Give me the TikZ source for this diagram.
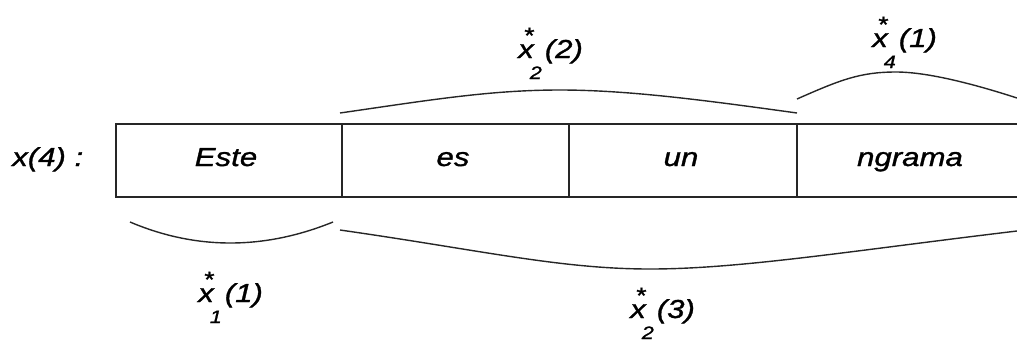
\documentclass[tikz,border=0pt]{standalone}
\usepackage{fontspec}
\setmainfont{Liberation Sans}[FakeStretch=1.2,FakeBold=1.2]
\newcommand\xstarlab[2]{\makebox[0pt][l]{\hspace*{5pt}\raisebox{15pt}{\fontsize{22}{22}\selectfont *}}x\hspace{-4pt}\raisebox{-21pt}{\fontsize{18}{18}\selectfont #1}\hspace{3pt}#2}
\begin{document}
\begin{tikzpicture}[x=1pt,y=-1pt,
  ln/.style={line width=1.4pt, black!85},
  txt/.style={font=\fontsize{26}{28}\selectfont\itshape, inner sep=0pt},
  lbl/.style={txt, anchor=base west},
  celltext/.style={txt, anchor=base}]
\useasboundingbox (0,0) rectangle (1017,341);
% cell grid
\coordinate (tl) at (116,124);
\coordinate (bl) at (116,197);
\coordinate (tr) at (1017,124);
\coordinate (br) at (1017,197);
\coordinate (d1t) at (342,124); \coordinate (d1b) at (342,197);
\coordinate (d2t) at (569,124); \coordinate (d2b) at (569,197);
\coordinate (d3t) at (797,124); \coordinate (d3b) at (797,197);
\draw[ln] (tr) -- (tl) -- (bl) -- (br);
\draw[ln] (d1t) -- (d1b);
\draw[ln] (d2t) -- (d2b);
\draw[ln] (d3t) -- (d3b);
% texts
\node[lbl] (x4) at (12,166) {x(4) :};
\node[celltext] (c1) at (226,166) {Este};
\node[celltext] (c2) at (453,166) {es};
\node[celltext] (c3) at (681,166) {un};
\node[celltext] (c4) at (910,166) {ngrama};
% braces
\coordinate (t1a) at (340,113); \coordinate (t1m) at (560,90); \coordinate (t1b) at (797,113);
\draw[ln] (t1a) .. controls (430,100) and (490,90) .. (t1m) .. controls (630,90) and (710,101) .. (t1b);
\coordinate (t2a) at (797,99); \coordinate (t2m) at (896,72); \coordinate (t2b) at (1017,98);
\draw[ln] (t2a) .. controls (840,80) and (860,72) .. (t2m) .. controls (930,72) and (980,86) .. (t2b);
\coordinate (b1a) at (130,222); \coordinate (b1b) at (333,222);
\draw[ln] (b1a) .. controls (196,250) and (264,250) .. (b1b);
\coordinate (b2a) at (340,230); \coordinate (b2m) at (650,269); \coordinate (b2b) at (1017,231);
\draw[ln] (b2a) .. controls (480,250) and (560,269) .. (b2m) .. controls (740,269) and (850,251) .. (b2b);
% brace labels
\node[lbl] (l22) at (518,58) {\xstarlab{2}{(2)}};
\node[lbl] (l41) at (872,47) {\xstarlab{4}{(1)}};
\node[lbl] (l11) at (198,302) {\xstarlab{1}{(1)}};
\node[lbl] (l23) at (630,318) {\xstarlab{2}{(3)}};
\end{tikzpicture}
\end{document}
